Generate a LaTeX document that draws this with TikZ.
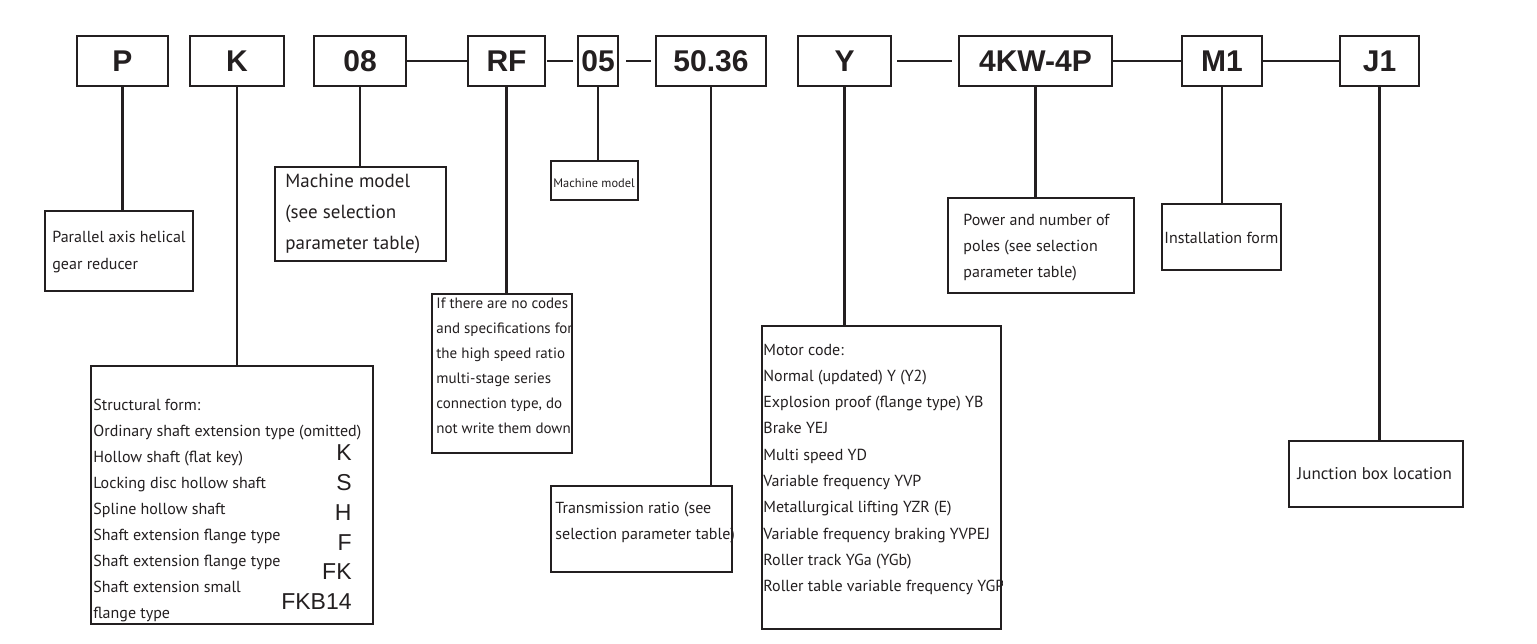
\documentclass[tikz,border=0pt]{standalone}
\usepackage{fontspec}
\setmainfont{PT Sans}
\newfontfamily\codefont{Liberation Sans}
\usetikzlibrary{fit}
\definecolor{ink}{HTML}{231F20}
\tikzset{
  code/.style={draw=ink, line width=1.4pt, inner sep=0pt, text=ink, minimum height=25pt,
    font=\codefont\bfseries\fontsize{15}{17}\selectfont},
  descbox/.style={draw=ink, line width=1.1pt, inner sep=0pt},
  desc/.style={anchor=mid west, inner sep=0pt, text=ink, font=\fontsize{8}{10}\selectfont},
  letter/.style={anchor=east, inner sep=0pt, text=ink, font=\codefont\fontsize{11.5}{13}\selectfont},
  link/.style={draw=ink, line width=1.2pt}
}
\begin{document}
\begin{tikzpicture}[x=0.5pt,y=-0.5pt]
  \useasboundingbox[fill=white] (0,0) rectangle (1537,643);
  % code row
  \node[code, minimum width=45.5pt] (P) at (122.5,61) {P};
  \node[code, minimum width=47pt] (K) at (237,61) {K};
  \node[code, minimum width=46pt] (o8) at (360,61) {08};
  \node[code, minimum width=38.5pt] (RF) at (506.5,61) {RF};
  \node[code, minimum width=20pt] (o5) at (598,61) {05};
  \node[code, minimum width=55pt] (ratio) at (711,61) {50.36};
  \node[code, minimum width=46.5pt] (Y) at (844.5,61) {Y};
  \node[code, minimum width=76.5pt] (pow) at (1035.5,61) {4KW-4P};
  \node[code, minimum width=40pt] (M1) at (1222,61) {M1};
  \node[code, minimum width=39.5pt] (J1) at (1379.5,61) {J1};
  \draw[link] (o8.east) -- (RF.west);
  \draw[link, shorten <=0.5pt, shorten >=2pt] (RF.east) -- (o5.west);
  \draw[link, shorten <=3.5pt, shorten >=2pt] (o5.east) -- (ratio.west);
  \draw[link, shorten <=2.5pt, shorten >=3pt] (Y.east) -- (pow.west);
  \draw[link] (pow.east) -- (M1.west);
  \draw[link] (M1.east) -- (J1.west);
  % explanation boxes
  \node[descbox, fit={(45,211) (193,291)}] (Pd) {};
  \node[descbox, fit={(91,366) (373,624)}] (Kd) {};
  \node[descbox, fit={(275,167) (446,261)}] (o8d) {};
  \node[descbox, fit={(432,294) (572,453)}] (RFd) {};
  \node[descbox, fit={(551,161) (638,200)}] (o5d) {};
  \node[descbox, fit={(551,486) (732,572)}] (ratiod) {};
  \node[descbox, fit={(762,326) (1001,629)}] (Yd) {};
  \node[descbox, fit={(948,198) (1134,293)}] (powd) {};
  \node[descbox, fit={(1162,204) (1281,270)}] (M1d) {};
  \node[descbox, fit={(1289,441) (1463,507)}] (J1d) {};
  \foreach \n in {P,K,o8,RF,o5,ratio,Y,pow,M1,J1}
    \draw[link] (\n.south) -- (\n.south |- \n d.north);
  % texts
  \foreach \t [count=\i from 0] in {Parallel axis helical, gear reducer}
    \node[desc] (Pt\i) at (52,237+27*\i) {\t};
  \foreach \t [count=\i from 0] in {Structural form:, Ordinary shaft extension type (omitted),
      Hollow shaft (flat key), Locking disc hollow shaft, Spline hollow shaft,
      Shaft extension flange type, Shaft extension flange type, Shaft extension small, flange type}
    \node[desc] (Kt\i) at (93,405+26*\i) {\t};
  \foreach \c/\y in {K/453, S/483, H/513, F/543, FK/572, FKB14/602}
    \node[letter] (Kc\c) at (352,\y) {\c};
  \foreach \t [count=\i from 0] in {Machine model, {(see selection}, {parameter table)}}
    \node[desc, font=\fontsize{9.5}{11}\selectfont] (o8t\i) at (285,182+31*\i) {\t};
  \begin{scope}
    \clip (RFd.north west) rectangle (RFd.south east);
    \foreach \t [count=\i from 0] in {If there are no codes, and specifications for,
        the high speed ratio, multi-stage series, {connection type, do}, not write them down}
      \node[desc, font=\fontsize{7.5}{9}\selectfont] (RFt\i) at (436,303+25*\i) {\t};
  \end{scope}
  \node[desc, font=\fontsize{6.2}{8}\selectfont] (o5t) at (553,182) {Machine model};
  \foreach \t [count=\i from 0] in {Transmission ratio (see, selection parameter table)}
    \node[desc] (ratiot\i) at (555,508+26*\i) {\t};
  \begin{scope}
    \clip (Yd.north west) rectangle (Yd.south east);
    \foreach \t [count=\i from 0] in {Motor code:, Normal (updated) Y (Y2),
        Explosion proof (flange type) YB, Brake YEJ, Multi speed YD, Variable frequency YVP,
        Metallurgical lifting YZR (E), Variable frequency braking YVPEJ,
        Roller track YGa (YGb), Roller table variable frequency YGP}
      \node[desc] (Yt\i) at (763,350+26.3*\i) {\t};
  \end{scope}
  \foreach \t [count=\i from 0] in {Power and number of, {poles (see selection}, {parameter table)}}
    \node[desc] (powt\i) at (963,220+26*\i) {\t};
  \node[desc] (M1t) at (1164,238) {Installation form};
  \node[desc, font=\fontsize{8.5}{10}\selectfont] (J1t) at (1297,474) {Junction box location};
\end{tikzpicture}
\end{document}
